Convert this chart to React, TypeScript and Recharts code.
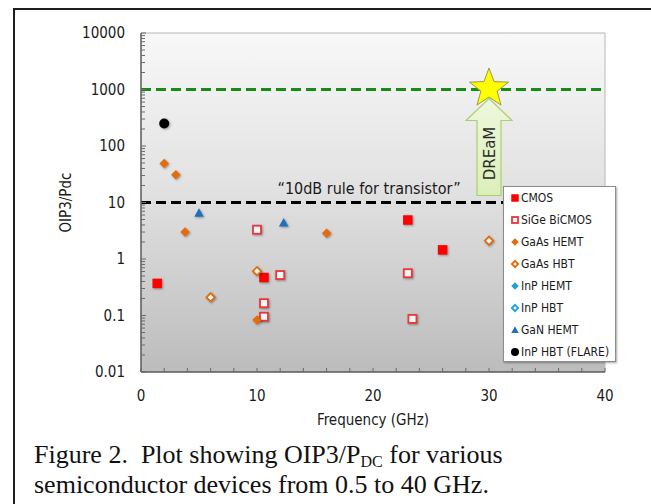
import React from 'react';
import {
  ScatterChart,
  Scatter,
  XAxis,
  YAxis,
  CartesianGrid,
  ReferenceLine,
  ReferenceDot,
  Legend,
} from 'recharts';

const FONT = '"DejaVu Sans Condensed", "DejaVu Sans", Verdana, sans-serif';
const SERIF = '"Liberation Serif", "Times New Roman", serif';

// frequency (GHz) and OIP3/Pdc
const cmosFreq = [1.4, 10.6, 23, 26];
const cmosRatio = [0.37, 0.47, 4.9, 1.45];
const sigeFreq = [10, 12, 10.6, 10.6, 23, 23.4];
const sigeRatio = [3.3, 0.52, 0.165, 0.095, 0.56, 0.087];
const gaasHemtFreq = [2, 3, 3.8, 16, 10];
const gaasHemtRatio = [49, 31, 3.0, 2.85, 0.083];
const gaasHbtFreq = [6, 10, 30];
const gaasHbtRatio = [0.21, 0.61, 2.1];
const inpHemtFreq: number[] = [];
const inpHemtRatio: number[] = [];
const inpHbtFreq: number[] = [];
const inpHbtRatio: number[] = [];
const ganHemtFreq = [5, 12.3];
const ganHemtRatio = [6.5, 4.4];
const flareFreq = [2];
const flareRatio = [250];

const dreamFreq = 30;
const dreamTarget = 1000;
const transistorRule = 10;

const xTicks = [0, 10, 20, 30, 40];
const xMinorTicks = [0, 2, 4, 6, 8, 10, 12, 14, 16, 18, 20, 22, 24, 26, 28, 30, 32, 34, 36, 38, 40];
const yTicks = [0.01, 0.1, 1, 10, 100, 1000, 10000];
const yTickLabels = ['0.01', '0.1', '1', '10', '100', '1000', '10000'];
const yMinorSteps = [1, 2, 3, 4, 5, 6, 7, 8, 9];

const allYTicks = [
  ...yTicks.slice(0, -1).flatMap((d) => yMinorSteps.map((m) => (m === 1 ? d : d * m))),
  yTicks[yTicks.length - 1],
];

type Kind = 'square' | 'diamond' | 'triangle' | 'circle';

const series = [
  { name: 'CMOS', kind: 'square' as Kind, color: '#ff0000', filled: true, freq: cmosFreq, ratio: cmosRatio },
  { name: 'SiGe BiCMOS', kind: 'square' as Kind, color: '#e8383d', filled: false, freq: sigeFreq, ratio: sigeRatio },
  { name: 'GaAs HEMT', kind: 'diamond' as Kind, color: '#e46c0a', filled: true, freq: gaasHemtFreq, ratio: gaasHemtRatio },
  { name: 'GaAs HBT', kind: 'diamond' as Kind, color: '#e46c0a', filled: false, freq: gaasHbtFreq, ratio: gaasHbtRatio },
  { name: 'InP HEMT', kind: 'diamond' as Kind, color: '#1ba1e2', filled: true, freq: inpHemtFreq, ratio: inpHemtRatio },
  { name: 'InP HBT', kind: 'diamond' as Kind, color: '#1ba1e2', filled: false, freq: inpHbtFreq, ratio: inpHbtRatio },
  { name: 'GaN HEMT', kind: 'triangle' as Kind, color: '#1f6fbf', filled: true, freq: ganHemtFreq, ratio: ganHemtRatio },
  { name: 'InP HBT (FLARE)', kind: 'circle' as Kind, color: '#000000', filled: true, freq: flareFreq, ratio: flareRatio },
];

const Y_TICK_SIZE = 6;
const Y_TICK_MARGIN = 10;
const X_TICK_SIZE = 6;
const X_TICK_MARGIN = 12;

function Marker({ kind, color, filled, cx, cy, size, shadow }: any) {
  const h = size / 2;
  const style = shadow ? { filter: 'drop-shadow(1.5px 1.5px 1px rgba(0,0,0,0.35))' } : undefined;
  const fill = filled ? color : '#f6f6f6';
  const stroke = filled ? 'none' : color;
  const sw = filled ? 0 : 1.8;
  if (kind === 'square') {
    const s = filled ? size : size - 1.5;
    return <rect x={cx - s / 2} y={cy - s / 2} width={s} height={s} fill={fill} stroke={stroke} strokeWidth={sw} style={style} />;
  }
  if (kind === 'diamond') {
    const r = filled ? h : h - 0.6;
    return (
      <polygon
        points={`${cx},${cy - r} ${cx + r},${cy} ${cx},${cy + r} ${cx - r},${cy}`}
        fill={fill}
        stroke={stroke}
        strokeWidth={sw}
        style={style}
      />
    );
  }
  if (kind === 'triangle') {
    return (
      <polygon
        points={`${cx},${cy - h} ${cx + h},${cy + h * 0.8} ${cx - h},${cy + h * 0.8}`}
        fill={fill}
        style={style}
      />
    );
  }
  return <circle cx={cx} cy={cy} r={h} fill={fill} style={style} />;
}

function YTick(props: any) {
  const { x, y, payload } = props;
  const axisX = x + Y_TICK_SIZE + Y_TICK_MARGIN;
  const i = yTicks.indexOf(payload.value);
  return (
    <g>
      <line x1={axisX} x2={axisX + (i >= 0 ? 5 : 4)} y1={y} y2={y} stroke="#6b6b6b" strokeWidth={1} />
      {i >= 0 && (
        <text x={x} y={y} dy="0.36em" textAnchor="end" fontFamily={FONT} fontSize={15} fill="#1a1a1a">
          {yTickLabels[i]}
        </text>
      )}
    </g>
  );
}

function XTick(props: any) {
  const { x, y, payload } = props;
  const axisY = y - X_TICK_SIZE - X_TICK_MARGIN;
  const showLabel = xTicks.includes(payload.value);
  return (
    <g>
      <line x1={x} x2={x} y1={axisY} y2={axisY - 4} stroke="#6b6b6b" strokeWidth={1} />
      {showLabel && (
        <text x={x} y={y} dy="0.71em" textAnchor="middle" fontFamily={FONT} fontSize={15} fill="#1a1a1a">
          {payload.value}
        </text>
      )}
    </g>
  );
}

function starPoints(cx: number, cy: number, outer: number, inner: number) {
  const pts: string[] = [];
  for (let k = 0; k < 10; k++) {
    const r = k % 2 === 0 ? outer : inner;
    const a = -Math.PI / 2 + (k * Math.PI) / 5;
    pts.push(`${cx + r * Math.cos(a)},${cy + r * Math.sin(a)}`);
  }
  return pts.join(' ');
}

function DreamMarker({ cx, cy }: any) {
  // upward arrow ending under the target star
  const tip = cy + 9;
  const headBase = cy + 31;
  const bottom = cy + 106;
  const arrow = [
    [cx, tip],
    [cx + 23, headBase],
    [cx + 12, headBase],
    [cx + 12, bottom],
    [cx - 12, bottom],
    [cx - 12, headBase],
    [cx - 23, headBase],
  ]
    .map((p) => p.join(','))
    .join(' ');
  return (
    <g>
      <polygon points={arrow} fill="url(#arrowFill)" stroke="#a9cf72" strokeWidth={1.2} />
      <text
        x={cx + 1}
        y={cy + 64}
        transform={`rotate(-90 ${cx + 1} ${cy + 64})`}
        textAnchor="middle"
        dy="0.36em"
        fontFamily='"DejaVu Sans", sans-serif'
        fontSize={15}
        fill="#2b2b2b"
      >
        DREaM
      </text>
      <polygon points={starPoints(cx, cy - 1, 20.5, 8.5)} fill="#ffff00" stroke="#9a9a4a" strokeWidth={1} />
    </g>
  );
}

function LegendBox() {
  return (
    <div
      style={{
        width: 113,
        height: 176,
        boxSizing: 'border-box',
        background: '#ffffff',
        border: '1px solid #8c8c8c',
        boxShadow: '1px 1px 2px rgba(0,0,0,0.35)',
        fontFamily: FONT,
        fontSize: 12,
        color: '#1a1a1a',
      }}
    >
      {series.map((s) => (
        <div key={s.name} style={{ height: 22, display: 'flex', alignItems: 'center', paddingLeft: 6 }}>
          <svg width={10} height={10} style={{ marginRight: 1 }}>
            <Marker kind={s.kind} color={s.color} filled={s.filled} cx={5} cy={5} size={s.kind === 'circle' ? 8 : 7.5} />
          </svg>
          <span style={{ whiteSpace: 'nowrap' }}>{s.name}</span>
        </div>
      ))}
    </div>
  );
}

export default function App() {
  const data = series.map((s) => s.freq.map((f, i) => ({ x: f, y: s.ratio[i] })));

  const captionLine = {
    position: 'absolute' as const,
    left: 34,
    fontFamily: SERIF,
    fontSize: 26,
    lineHeight: '30px',
    color: '#111',
    whiteSpace: 'pre' as const,
  };

  return (
    <div style={{ position: 'absolute', left: 0, top: 0, width: 651, height: 504, background: '#fff', overflow: 'hidden' }}>
      <div
        style={{
          position: 'absolute',
          left: 13,
          top: 8,
          width: 700,
          height: 600,
          borderLeft: '2px solid #1e1e1e',
          borderTop: '2px solid #1e1e1e',
        }}
      />
      <div style={{ position: 'absolute', left: 0, top: 0 }}>
        <ScatterChart width={651} height={504} margin={{ top: 33, right: 46, bottom: 72, left: 0 }}>
          <defs>
            <linearGradient id="plotBg" x1="0" y1="0" x2="0" y2="1">
              <stop offset="0%" stopColor="#f8f8f8" />
              <stop offset="45%" stopColor="#e2e2e2" />
              <stop offset="100%" stopColor="#bcbcbc" />
            </linearGradient>
            <linearGradient id="arrowFill" x1="0" y1="0" x2="0" y2="1">
              <stop offset="0%" stopColor="#eef7de" />
              <stop offset="100%" stopColor="#dcefb8" />
            </linearGradient>
          </defs>
          <CartesianGrid fill="url(#plotBg)" horizontal={false} vertical={false} />
          <XAxis
            type="number"
            dataKey="x"
            domain={[0, 40]}
            ticks={xMinorTicks}
            interval={0}
            height={60}
            tickSize={X_TICK_SIZE}
            tickMargin={X_TICK_MARGIN}
            tickLine={false}
            tick={<XTick />}
            axisLine={{ stroke: '#5a5a5a', strokeWidth: 1.5 }}
            allowDataOverflow
            label={(p: any) => {
              const vb = p.viewBox;
              return (
                <text
                  x={vb.x + vb.width / 2}
                  y={vb.y + 48}
                  dy="0.36em"
                  textAnchor="middle"
                  fontFamily={FONT}
                  fontSize={15}
                  fill="#1a1a1a"
                >
                  Frequency (GHz)
                </text>
              );
            }}
          />
          <YAxis
            type="number"
            dataKey="y"
            scale="log"
            domain={[0.01, 10000]}
            ticks={allYTicks}
            interval={0}
            width={141}
            tickSize={Y_TICK_SIZE}
            tickMargin={Y_TICK_MARGIN}
            tickLine={false}
            tick={<YTick />}
            axisLine={{ stroke: '#5a5a5a', strokeWidth: 1.5 }}
            allowDataOverflow
            label={(p: any) => {
              const vb = p.viewBox;
              const cx = vb.x + 66;
              const cy = vb.y + vb.height / 2;
              return (
                <text
                  x={cx}
                  y={cy}
                  dy="0.36em"
                  transform={`rotate(-90 ${cx} ${cy})`}
                  textAnchor="middle"
                  fontFamily={FONT}
                  fontSize={15}
                  fill="#1a1a1a"
                >
                  OIP3/Pdc
                </text>
              );
            }}
          />
          <ReferenceLine y={10000} stroke="#b8b8b8" strokeWidth={1} />
          <ReferenceLine x={40} stroke="#b8b8b8" strokeWidth={1} />
          <ReferenceLine y={dreamTarget} stroke="#158c15" strokeWidth={3} strokeDasharray="10 5" />
          <ReferenceLine
            y={transistorRule}
            stroke="#000000"
            strokeWidth={3}
            strokeDasharray="10 5"
            label={{
              value: '\u201C10dB rule for transistor\u201D',
              position: 'top',
              offset: 9,
              dx: -4,
              fontFamily: FONT,
              fontSize: 16,
              fill: '#1a1a1a',
            }}
          />
          {series.map((s, i) => (
            <Scatter
              key={s.name}
              name={s.name}
              data={data[i]}
              isAnimationActive={false}
              shape={(p: any) => (
                <Marker kind={s.kind} color={s.color} filled={s.filled} cx={p.cx} cy={p.cy} size={s.kind === 'circle' ? 10 : 9.5} shadow />
              )}
            />
          ))}
          <ReferenceDot x={dreamFreq} y={dreamTarget} r={0} shape={(p: any) => <DreamMarker cx={p.cx} cy={p.cy} />} />
          <Legend
            layout="vertical"
            align="center"
            verticalAlign="middle"
            content={() => <LegendBox />}
            wrapperStyle={{ left: 503, top: 186, width: 113, height: 176 }}
          />
        </ScatterChart>
      </div>
      <div style={{ ...captionLine, top: 440 }}>
        Figure 2.{'  '}Plot showing OIP3/P
        <span style={{ fontSize: 16, verticalAlign: -4 }}>DC</span> for various
      </div>
      <div style={{ ...captionLine, top: 470 }}>semiconductor devices from 0.5 to 40 GHz.</div>
    </div>
  );
}
